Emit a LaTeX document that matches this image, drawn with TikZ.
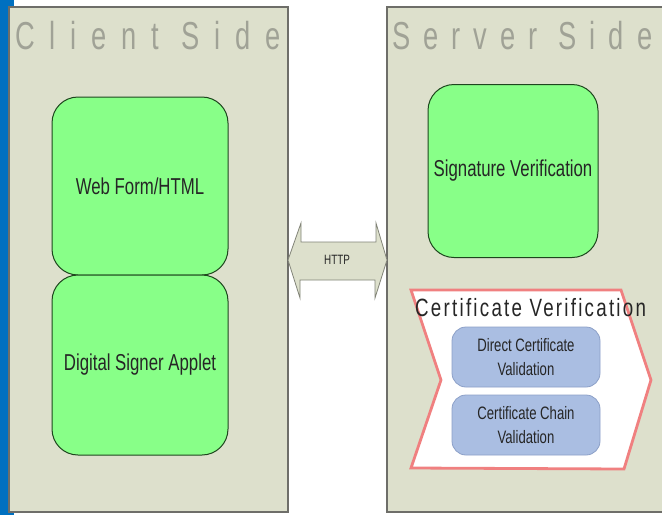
\documentclass[tikz,border=0pt]{standalone}
\usepackage{fontspec}
\setmainfont{Liberation Sans}[FakeStretch=0.73]
\newfontfamily\titlefont{Liberation Sans}[FakeStretch=0.7, LetterSpace=38]
\newfontfamily\stitlefont{Liberation Sans}[FakeStretch=0.7, LetterSpace=33.5]
\newfontfamily\certfont{Liberation Sans}[FakeStretch=0.75, LetterSpace=9]
\definecolor{stripblue}{RGB}{0,112,192}
\definecolor{panelfill}{RGB}{221,224,204}
\definecolor{panelline}{RGB}{110,110,105}
\definecolor{titlegray}{RGB}{160,162,150}
\definecolor{boxgreen}{RGB}{136,255,136}
\definecolor{boxgreenline}{RGB}{30,70,30}
\definecolor{boxblue}{RGB}{170,190,226}
\definecolor{boxblueline}{RGB}{140,160,200}
\definecolor{chevred}{RGB}{240,128,128}
\definecolor{arrowline}{RGB}{130,132,120}
\begin{document}
\begin{tikzpicture}[x=1pt,y=-1pt,
  panel/.style={draw=panelline, line width=1.2pt, fill=panelfill, inner sep=0pt, outer sep=0pt, anchor=north west},
  titletext/.style={font=\titlefont\fontsize{39}{39}\selectfont, text=titlegray, inner sep=0pt, anchor=base west},
  greenbox/.style={draw=boxgreenline, line width=1pt, fill=boxgreen, rounded corners=26pt, inner sep=0pt,
    font=\fontsize{23}{26}\selectfont, align=center, text=black!85},
  bluebox/.style={draw=boxblueline, line width=0.8pt, fill=boxblue, rounded corners=14pt, inner sep=0pt,
    minimum width=148pt, minimum height=60pt, font=\fontsize{18}{24}\selectfont, align=center, text=black!85}
]
\useasboundingbox (0,0) rectangle (662,515);
\fill[white] (0,0) rectangle (662,515);
\fill[stripblue] (0,0) rectangle (14,515);

% panels
\node[panel, minimum width=279pt, minimum height=505pt] (client) at (9,7) {};
\node[panel, minimum width=285pt, minimum height=505pt] (server) at (387,7) {};
\node[titletext] (ctitle) at (15,49) {Client Side};
\node[titletext, font=\stitlefont\fontsize{39}{39}\selectfont] (stitle) at (392,49) {Server Side};

% client boxes
\node[greenbox, minimum width=176pt, minimum height=178pt] (web) at (140,186) {Web Form/HTML};
\node[greenbox, minimum width=176pt, minimum height=180pt] (applet) at (140,365) {Digital Signer Applet};

% server box
\node[greenbox, minimum width=170pt, minimum height=173pt] (sig) at (513,171) {Signature Verification};

% HTTP double arrow between the panels
\coordinate (hl) at (client.east |- 0,260);
\coordinate (hr) at (server.west |- 0,260);
\draw[draw=arrowline, line width=0.8pt, fill=panelfill]
  (hl) -- ++(13,-37) -- ++(0,19) -- ++(75,0) -- ++(0,-19) -- (hr)
  -- ++(-12,38) -- ++(0,-18) -- ++(-75,0) -- ++(0,18) -- cycle;
\node[font=\fontsize{13.5}{13.5}\selectfont, inner sep=0pt, text=black!85] (http) at (337,260) {HTTP};

% certificate verification chevron
\draw[draw=chevred, line width=2.8pt, fill=white, line join=miter]
  (411,290) -- (621,290) -- (651,380) -- (624,469) -- (411,468) -- (441,380) -- cycle;
\node[font=\certfont\fontsize{25}{25}\selectfont, inner sep=0pt, anchor=base west, text=black!85] (cv) at (415,316) {Certificate Verification};
\node[bluebox] (direct) at (526,357) {Direct Certificate\\Validation};
\node[bluebox] (chain) at (526,425) {Certificate Chain\\Validation};
\end{tikzpicture}
\end{document}
